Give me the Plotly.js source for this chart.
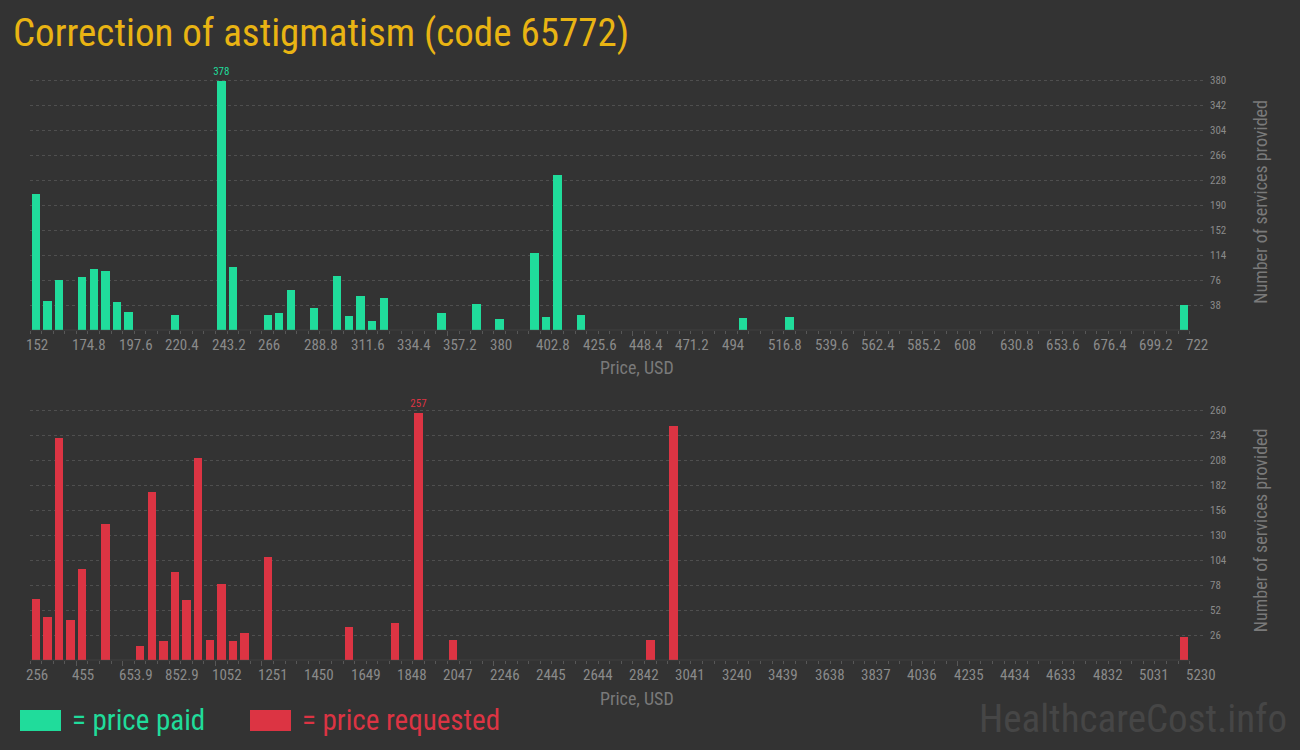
<!DOCTYPE html>
<html>
<head>
<meta charset="utf-8">
<script src="https://cdn.plot.ly/plotly-3.0.1.min.js"></script>
<style>
  html, body { margin: 0; padding: 0; background: #333333; }
  #chart { width: 1300px; height: 750px; }
</style>
</head>
<body>
<div id="chart"></div>
<script>
// ---------- DATA ----------
// Price paid: bin start price (USD) and number of services in that bin
const paidBinWidth = 5.7;
const paidPrices = [152, 157.7, 163.4, 174.8, 180.5, 186.2, 191.9, 197.6, 220.4, 243.2,
                    248.9, 266, 271.7, 277.4, 288.8, 300.2, 305.9, 311.6, 317.3, 323,
                    351.5, 368.6, 380, 397.1, 402.8, 408.5, 419.9, 499.7, 522.5, 716.3];
const paidCounts = [207, 45, 76, 81, 93, 90, 43, 28, 23, 378,
                    96, 23, 26, 61, 34, 82, 22, 52, 14, 49,
                    26, 40, 17, 117, 20, 236, 23, 19, 20, 38];

// Price requested
const reqBinWidth = 49.74;
const reqPrices = [256, 305.74, 355.48, 405.22, 454.96, 554.44, 703.66, 753.4, 803.14, 852.88,
                   902.62, 952.36, 1002.1, 1051.84, 1101.58, 1151.32, 1250.8, 1598.98, 1797.94, 1897.42,
                   2046.64, 2892.22, 2991.7, 5180.26];
const reqCounts = [64, 45, 231, 42, 95, 142, 15, 175, 20, 92,
                   63, 210, 21, 79, 20, 28, 107, 35, 39, 257,
                   21, 21, 243, 24];

// Tick labels
const paidXTickVals = [152, 174.8, 197.6, 220.4, 243.2, 266, 288.8, 311.6, 334.4, 357.2, 380, 402.8, 425.6,
                       448.4, 471.2, 494, 516.8, 539.6, 562.4, 585.2, 608, 630.8, 653.6, 676.4, 699.2, 722];
const paidXTickText = ["152", "174.8", "197.6", "220.4", "243.2", "266", "288.8", "311.6", "334.4", "357.2", "380",
                       "402.8", "425.6", "448.4", "471.2", "494", "516.8", "539.6", "562.4", "585.2", "608",
                       "630.8", "653.6", "676.4", "699.2", "722"];
const reqXTickVals = [256, 454.96, 653.92, 852.88, 1051.84, 1250.8, 1449.76, 1648.72, 1847.68, 2046.64,
                      2245.6, 2444.56, 2643.52, 2842.48, 3041.44, 3240.4, 3439.36, 3638.32, 3837.28,
                      4036.24, 4235.2, 4434.16, 4633.12, 4832.08, 5031.04, 5230];
const reqXTickText = ["256", "455", "653.9", "852.9", "1052", "1251", "1450", "1649", "1848", "2047", "2246",
                      "2445", "2644", "2842", "3041", "3240", "3439", "3638", "3837", "4036", "4235", "4434",
                      "4633", "4832", "5031", "5230"];
const paidYTicks = [38, 76, 114, 152, 190, 228, 266, 304, 342, 380];
const reqYTicks = [26, 52, 78, 104, 130, 156, 182, 208, 234, 260];

// ---------- STYLE ----------
const GREEN = '#20dc9b';
const RED = '#dc3443';
const BG = '#333333';
const TICK_GRAY = '#8a8a8a';
const TITLE_GRAY = '#7a7a7a';
const GRID = '#4f4f4f';
const AXIS = '#575757';
const NARROW = '"Roboto Condensed", "Liberation Sans Narrow", "DejaVu Sans Condensed", Roboto, sans-serif';

const W = 1300, H = 750, ML = 30, MR = 95;

function minorVals(vals, bw) {
  const out = [];
  const n = Math.round((vals[vals.length - 1] - vals[0]) / bw);
  for (let k = 0; k <= n; k++) out.push(vals[0] + k * bw);
  return out;
}

// plot spans 30..1205 px; data ticks span 29.7..1189.3 px
const stretch = 1175 / 1159.6;
function xRange(vals) {
  const a = vals[0], b = vals[vals.length - 1];
  return [a, a + (b - a) * stretch];
}

function peakText(counts) {
  const m = Math.max(...counts);
  return counts.map(c => c === m ? String(c) : '');
}

const traces = [
  {
    type: 'bar', name: 'price paid', x: paidPrices, y: paidCounts,
    xaxis: 'x', yaxis: 'y',
    width: paidBinWidth * 0.72, offset: paidBinWidth * 0.14,
    marker: { color: GREEN, line: { width: 0 } },
    text: peakText(paidCounts), textposition: 'outside', cliponaxis: false, constraintext: 'none',
    textfont: { family: NARROW, size: 11, color: GREEN },
    hoverinfo: 'x+y', showlegend: false
  },
  {
    type: 'bar', name: 'price requested', x: reqPrices, y: reqCounts,
    xaxis: 'x2', yaxis: 'y2',
    width: reqBinWidth * 0.72, offset: reqBinWidth * 0.14,
    marker: { color: RED, line: { width: 0 } },
    text: peakText(reqCounts), textposition: 'outside', cliponaxis: false, constraintext: 'none',
    textfont: { family: NARROW, size: 11, color: RED },
    hoverinfo: 'x+y', showlegend: false
  }
];

function xAxis(vals, bw, anchor) {
  return {
    anchor: anchor,
    range: xRange(vals),
    tickmode: 'array', tickvals: vals, ticktext: vals.map(() => ''),
    showticklabels: false,
    ticks: 'outside', ticklen: 5, tickwidth: 1, tickcolor: AXIS,
    minor: { tickmode: 'array', tickvals: minorVals(vals, bw), ticks: 'outside', ticklen: 3, tickwidth: 1, tickcolor: AXIS, showgrid: false },
    showgrid: false, zeroline: false, showline: false, fixedrange: true
  };
}

function yAxis(ticks, top, anchor, domain) {
  return {
    anchor: anchor, side: 'right', domain: domain,
    range: [0, top],
    tickmode: 'array', tickvals: ticks,
    ticks: '', ticklabelstandoff: 4,
    tickfont: { family: NARROW, size: 11, color: TICK_GRAY },
    showgrid: true, gridcolor: GRID, griddash: 'dot', gridwidth: 1,
    zeroline: false, showline: false, fixedrange: true,
    title: { text: 'Number of services provided', standoff: 28,
             font: { family: NARROW, size: 18, color: TITLE_GRAY } }
  };
}

function pyToPaper(py) { return 1 - py / H; }
function pxToPaper(px) { return (px - ML) / (W - ML - MR); }

const annotations = [];
function addTickLabels(vals, texts, xref, yref) {
  vals.forEach((v, i) => {
    annotations.push({
      x: v, y: 0, xref: xref, yref: yref,
      xanchor: 'left', yanchor: 'middle', xshift: -6, yshift: -15,
      text: texts[i], showarrow: false,
      font: { family: NARROW, size: 15, color: TICK_GRAY }
    });
  });
}
addTickLabels(paidXTickVals, paidXTickText, 'x', 'y');
addTickLabels(reqXTickVals, reqXTickText, 'x2', 'y2');

// x axis titles
annotations.push({ x: pxToPaper(637), y: pyToPaper(368), xref: 'paper', yref: 'paper', xanchor: 'center', yanchor: 'middle',
  text: 'Price, USD', showarrow: false, font: { family: NARROW, size: 18, color: TITLE_GRAY } });
annotations.push({ x: pxToPaper(637), y: pyToPaper(698), xref: 'paper', yref: 'paper', xanchor: 'center', yanchor: 'middle',
  text: 'Price, USD', showarrow: false, font: { family: NARROW, size: 18, color: TITLE_GRAY } });

// legend texts
annotations.push({ x: pxToPaper(70), y: pyToPaper(720), xref: 'paper', yref: 'paper', xanchor: 'left', yanchor: 'middle',
  text: '= price paid', showarrow: false, font: { family: NARROW, size: 29, color: GREEN } });
annotations.push({ x: pxToPaper(300), y: pyToPaper(720), xref: 'paper', yref: 'paper', xanchor: 'left', yanchor: 'middle',
  text: '= price requested', showarrow: false, font: { family: NARROW, size: 29, color: RED } });

// watermark
annotations.push({ x: pxToPaper(1289), y: pyToPaper(719), xref: 'paper', yref: 'paper', xanchor: 'right', yanchor: 'middle',
  text: 'HealthcareCost.info', showarrow: false, font: { family: NARROW, size: 39, color: '#464646' } });

const shapes = [
  { type: 'line', xref: 'x', yref: 'y', x0: paidXTickVals[0], x1: paidXTickVals[paidXTickVals.length - 1], y0: 0, y1: 0,
    line: { color: AXIS, width: 1 } },
  { type: 'line', xref: 'x2', yref: 'y2', x0: reqXTickVals[0], x1: reqXTickVals[reqXTickVals.length - 1], y0: 0, y1: 0,
    line: { color: AXIS, width: 1 } },
  { type: 'rect', xref: 'paper', yref: 'paper', x0: pxToPaper(20), x1: pxToPaper(61), y0: pyToPaper(731), y1: pyToPaper(710),
    fillcolor: GREEN, line: { width: 0 } },
  { type: 'rect', xref: 'paper', yref: 'paper', x0: pxToPaper(250), x1: pxToPaper(291), y0: pyToPaper(731), y1: pyToPaper(710),
    fillcolor: RED, line: { width: 0 } }
];

// top plot: y=0 at 330.3px, 380 at 80px ; bottom: y=0 at 660.3px, 260 at 410px
const topMax = 390, botMax = 270;
const topDomain = [pyToPaper(330.3), pyToPaper(330.3 - topMax * (250.3 / 380))];
const botDomain = [pyToPaper(660.3), pyToPaper(660.3 - botMax * (250.3 / 260))];

const layout = {
  width: W, height: H,
  paper_bgcolor: BG, plot_bgcolor: BG,
  margin: { l: ML, r: MR, t: 0, b: 0, pad: 0 },
  showlegend: false,
  bargap: 0,
  title: {
    text: 'Correction of astigmatism (code 65772)',
    xref: 'container', yref: 'container', x: 13 / W, xanchor: 'left', y: pyToPaper(32), yanchor: 'middle',
    font: { family: NARROW, size: 39, color: '#e9b413' }
  },
  xaxis: xAxis(paidXTickVals, paidBinWidth, 'y'),
  yaxis: yAxis(paidYTicks, topMax, 'x', topDomain),
  xaxis2: xAxis(reqXTickVals, reqBinWidth, 'y2'),
  yaxis2: yAxis(reqYTicks, botMax, 'x2', botDomain),
  annotations: annotations,
  shapes: shapes
};

Plotly.newPlot('chart', traces, layout, { displayModeBar: false, staticPlot: true });
</script>
</body>
</html>
